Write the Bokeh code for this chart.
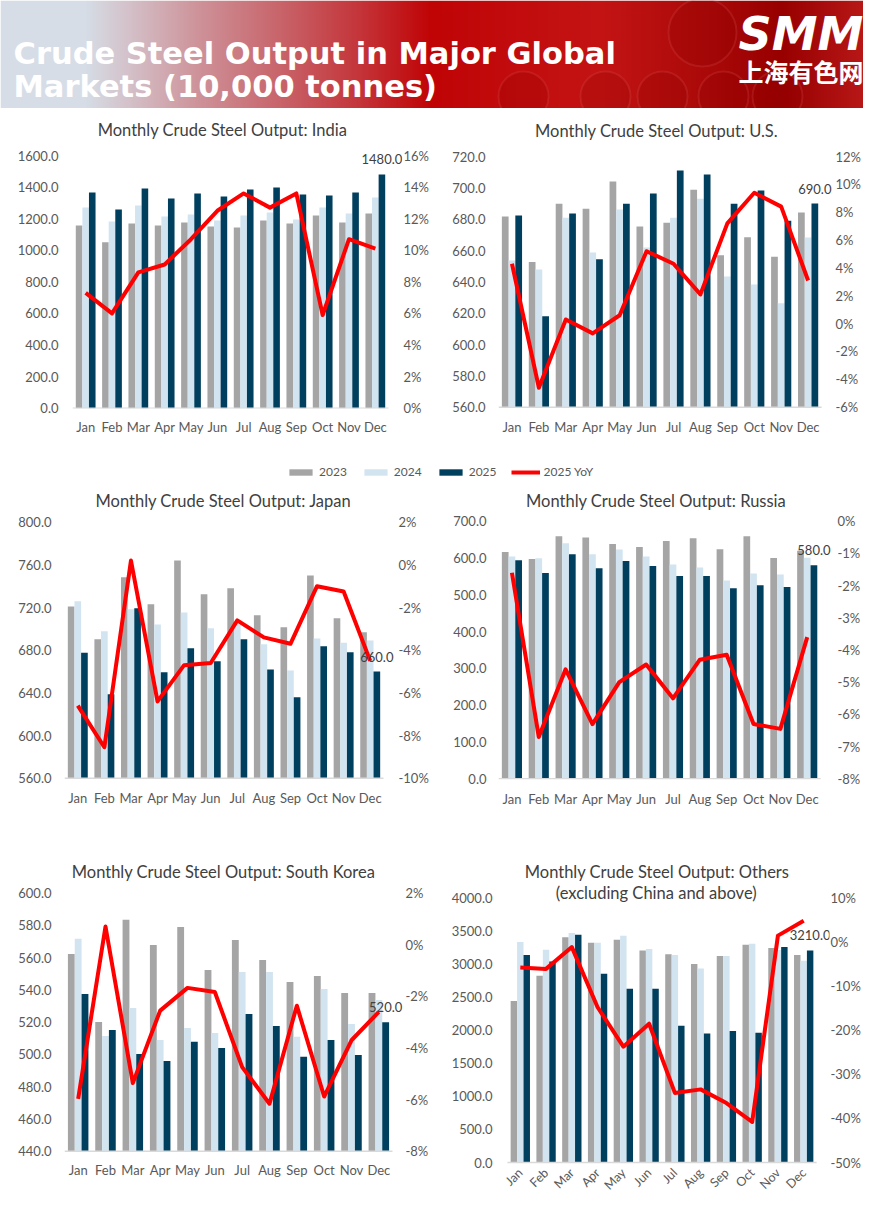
import math
import numpy as np
from bokeh.plotting import figure
from bokeh.models import (Range1d, LinearAxis, FixedTicker, PrintfTickFormatter,
                          ColumnDataSource, Label, Legend, LegendItem)
from bokeh.transform import dodge
from bokeh.layouts import column, row
from bokeh.core.properties import value
from bokeh.embed import file_html
from bokeh.resources import INLINE

# ---------------- data ----------------
months = ["Jan", "Feb", "Mar", "Apr", "May", "Jun", "Jul", "Aug", "Sep", "Oct", "Nov", "Dec"]

india_2023 = [1157, 1051, 1169, 1157, 1176, 1150, 1144, 1188, 1169, 1220, 1176, 1233]
india_2024 = [1271, 1182, 1283, 1214, 1226, 1188, 1220, 1239, 1195, 1271, 1233, 1334]
india_2025 = [1366, 1258, 1391, 1328, 1359, 1340, 1385, 1397, 1353, 1347, 1366, 1480]
india_yoy = [7.3, 6.0, 8.6, 9.1, 10.7, 12.5, 13.6, 12.7, 13.6, 5.9, 10.7, 10.1]

us_2023 = [681.7, 652.6, 689.8, 686.6, 704.0, 675.3, 677.7, 698.7, 657.0, 668.5, 656.0, 684.3]
us_2024 = [653.6, 647.9, 680.9, 658.7, 686.2, 662.0, 680.9, 693.0, 643.4, 638.3, 626.4, 668.3]
us_2025 = [682.3, 618.0, 683.6, 654.5, 689.8, 696.4, 711.0, 708.5, 689.8, 698.3, 679.0, 690.0]
us_yoy = [4.3, -4.6, 0.3, -0.7, 0.6, 5.2, 4.3, 2.1, 7.2, 9.4, 8.4, 3.1]

japan_2023 = [721.0, 690.3, 748.4, 723.0, 764.0, 732.5, 738.0, 712.8, 701.6, 750.0, 710.0, 696.9]
japan_2024 = [726.0, 697.8, 718.4, 704.0, 715.3, 700.6, 705.0, 685.6, 661.0, 691.0, 687.0, 689.0]
japan_2025 = [677.5, 638.8, 719.4, 659.4, 681.9, 669.7, 690.3, 662.0, 636.0, 683.8, 678.0, 660.0]
japan_yoy = [-6.6, -8.55, 0.2, -6.4, -4.7, -4.6, -2.6, -3.4, -3.7, -1.0, -1.25, -4.5]

russia_2023 = [616, 597, 659, 656, 638, 630, 646, 654, 624, 659, 600, 620]
russia_2024 = [604, 599, 640, 610, 623, 604, 582, 574, 539, 558, 555, 601]
russia_2025 = [594, 559, 610, 572, 592, 578, 551, 551, 518, 526, 521, 580]
russia_yoy = [-1.6, -6.7, -4.6, -6.3, -5.0, -4.45, -5.5, -4.3, -4.15, -6.3, -6.45, -3.6]

korea_2023 = [562.3, 520.2, 583.6, 567.9, 579.0, 552.4, 571.0, 558.6, 545.0, 548.7, 538.1, 538.1]
korea_2024 = [571.8, 511.5, 528.8, 509.0, 516.4, 513.3, 551.2, 551.2, 510.9, 540.6, 518.9, 533.8]
korea_2025 = [537.5, 515.2, 500.3, 496.0, 507.8, 504.0, 525.1, 517.7, 498.5, 509.0, 499.7, 520.0]
korea_yoy = [-5.97, 0.71, -5.36, -2.55, -1.67, -1.83, -4.74, -6.16, -2.36, -5.88, -3.7, -2.6]

others_2023 = [2446, 2825, 3410, 3324, 3370, 3208, 3153, 3006, 3127, 3294, 3248, 3142]
others_2024 = [3339, 3218, 3475, 3324, 3430, 3233, 3142, 2936, 3127, 3309, 3215, 3052]
others_2025 = [3142, 3041, 3445, 2855, 2628, 2628, 2068, 1952, 1992, 1962, 3263, 3210]
others_yoy = [-5.75, -6.05, -1.1, -14.75, -23.7, -18.5, -34.2, -33.4, -36.5, -40.8, 1.5, 4.9]

series_labels = ["2023", "2024", "2025", "2025 YoY"]
main_title = ["Crude Steel Output in Major Global", "Markets (10,000 tonnes)"]

# ---------------- style ----------------
FONT = "Lato"
C23, C24, C25, CRED = "#A5A5A5", "#D2E4F0", "#003F5E", "#FF0000"
TXT = "#595959"
TTL = "#404040"
NM = len(months)
month_x = [i + 0.5 for i in range(NM)]


def style_axis(ax, standoff):
    ax.axis_line_color = None
    ax.major_tick_line_color = None
    ax.minor_tick_line_color = None
    ax.major_tick_out = 0
    ax.major_tick_in = 0
    ax.minor_tick_out = 0
    ax.minor_tick_in = 0
    ax.major_label_text_font = FONT
    ax.major_label_text_font_size = "13px"
    ax.major_label_text_color = TXT
    ax.major_label_standoff = standoff


def make_panel(titles, d23, d24, d25, yoy, lmin, lmax, lstep, rmin, rmax, rstep,
               fig, pa, fr, xs, ls, rs, month_text=None):
    """month_text: None -> regular x axis; (angle, align, x_offset, y_offset, size) -> month
    names drawn as text at the category positions (lets the frame run to the figure's bottom)."""
    fx0, fy0, fw, fh = fig          # figure box on the page
    pl, pr, pt, pb = pa             # where the category band / value axis sit
    rl, rr, rt, rb = fr             # drawing frame (a bit larger, to hold titles and end labels)
    sx = NM / (pr - pl)
    sy = (lmax - lmin) / (pb - pt)
    sr = (rmax - rmin) / (pb - pt)
    p = figure(width=fw, height=fh,
               x_range=Range1d((rl - pl) * sx, (rr - pl) * sx),
               y_range=Range1d(lmin - (rb - pb) * sy, lmax + (pt - rt) * sy),
               output_backend="svg", toolbar_location=None, title=None,
               x_axis_location=None if month_text else "below",
               min_border_left=rl - fx0, min_border_right=fx0 + fw - rr,
               min_border_top=rt - fy0, min_border_bottom=fy0 + fh - rb)
    p.extra_y_ranges = {"yoy": Range1d(rmin - (rb - pb) * sr, rmax + (pt - rt) * sr)}
    p.outline_line_color = None
    p.xgrid.visible = False
    p.ygrid.visible = False

    src = ColumnDataSource(dict(x=month_x, month=months, y23=d23, y24=d24, y25=d25, yoy=yoy))
    p.vbar(x=dodge("x", -0.25), top="y23", bottom=lmin, width=0.25, source=src,
           fill_color=C23, line_color=None)
    p.vbar(x=dodge("x", 0.0), top="y24", bottom=lmin, width=0.25, source=src,
           fill_color=C24, line_color=None)
    p.vbar(x=dodge("x", 0.25), top="y25", bottom=lmin, width=0.25, source=src,
           fill_color=C25, line_color=None)
    p.segment(x0=[0], y0=[lmin], x1=[NM], y1=[lmin], line_color="#D9D9D9", line_width=1.5)
    p.line(x="x", y="yoy", source=src, y_range_name="yoy", line_color=CRED,
           line_width=4, line_join="round")

    p.add_layout(Label(x=month_x[-1] + 0.25, y=d25[-1], text=f"{d25[-1]:.1f}",
                       text_align="center", text_baseline="bottom", y_offset=10,
                       text_font=FONT, text_font_size="13px", text_color=TTL))

    for txt, cx, cy in titles:
        p.add_layout(Label(x=(cx - pl) * sx, y=lmax + (pt - cy) * sy, text=txt,
                           text_align="center", text_baseline="middle", text_font=FONT,
                           text_font_size="16.5px", text_color=TTL))

    p.yaxis[0].ticker = FixedTicker(ticks=[float(v) for v in np.arange(lmin, lmax + lstep / 2, lstep)])
    p.yaxis[0].formatter = PrintfTickFormatter(format="%.1f")
    style_axis(p.yaxis[0], ls)

    ra = LinearAxis(y_range_name="yoy",
                    ticker=FixedTicker(ticks=[float(v) for v in np.arange(rmin, rmax + rstep / 2, rstep)]),
                    formatter=PrintfTickFormatter(format="%d%%"))
    style_axis(ra, rs)
    p.add_layout(ra, "right")

    if month_text:
        ang, align, xo, yo, size = month_text
        p.text(x="x", y=lmin, text="month", source=src, angle=ang,
               text_align=align, text_baseline="middle", x_offset=xo, y_offset=yo,
               text_font=value(FONT), text_font_size=size, text_color=TXT)
    else:
        xa = p.xaxis[0]
        xa.ticker = FixedTicker(ticks=month_x)
        xa.major_label_overrides = {x: m for x, m in zip(month_x, months)}
        style_axis(xa, xs)
    return p


india = make_panel([("Monthly Crude Steel Output: India", 222, 129.3)],
                   india_2023, india_2024, india_2025, india_yoy, 0, 1600, 200, 0, 16, 2,
                   (0, 108, 440, 340), (72, 388, 155, 407.7), (72, 402, 112, 408), 10, 14, 1)
us = make_panel([("Monthly Crude Steel Output: U.S.", 657, 130)],
                us_2023, us_2024, us_2025, us_yoy, 560, 720, 20, -6, 12, 2,
                (440, 108, 423, 340), (498, 823, 156, 406.7), (498, 836, 112, 408), 10, 13, 1)
japan = make_panel([("Monthly Crude Steel Output: Japan", 223, 500)],
                   japan_2023, japan_2024, japan_2025, japan_yoy, 560, 800, 40, -10, 2, 2,
                   (0, 490, 440, 325), (64, 383, 521.7, 777.7), (64, 397, 490, 779), 10, 13, 1)
russia = make_panel([("Monthly Crude Steel Output: Russia", 657, 500)],
                    russia_2023, russia_2024, russia_2025, russia_yoy, 0, 700, 100, -8, 0, 1,
                    (440, 490, 423, 325), (498, 823, 520.7, 778.3), (498, 839, 490, 779), 11, 12, 1)
korea = make_panel([("Monthly Crude Steel Output: South Korea", 223, 871.7)],
                   korea_2023, korea_2024, korea_2025, korea_yoy, 440, 600, 20, -8, 2, 2,
                   (0, 815, 440, 379), (64, 392, 892.7, 1150.7), (64, 404, 858, 1194), 0, 13, 1,
                   month_text=(0, "center", 0, 18.6, "13px"))
others = make_panel([("Monthly Crude Steel Output: Others", 657.5, 871.7),
                     ("(excluding China and above)", 656.7, 892.7)],
                    others_2023, others_2024, others_2025, others_yoy, 0, 4000, 500, -50, 10, 10,
                    (440, 815, 423, 379), (507, 818, 897.7, 1162), (494, 831, 858, 1194), 0, 2, 1,
                    month_text=(math.pi / 4, "right", 0, 8, "12.5px"))

# ---------------- header ----------------
HW, HH = 863, 108
hdr = figure(width=HW, height=HH, x_range=Range1d(0, HW), y_range=Range1d(0, HH),
             output_backend="svg", toolbar_location=None, min_border=0, title=None,
             x_axis_location=None, y_axis_location=None)
hdr.grid.visible = False
hdr.outline_line_color = None
px = np.arange(HW)
stop_x = [0, 85, 130, 200, 280, 360, 430, 600, 700, 780, 879]
stop_c = np.array([[214, 221, 230], [214, 221, 230], [212, 192, 200], [206, 145, 152],
                   [200, 100, 106], [196, 52, 57], [192, 4, 6], [196, 20, 20],
                   [172, 10, 10], [152, 0, 0], [190, 28, 28]], dtype=float)
img = np.zeros((HH, HW), dtype=np.uint32)
view = img.view(dtype=np.uint8).reshape((HH, HW, 4))
for k in range(3):
    view[:, :, k] = np.interp(px, stop_x, stop_c[:, k]).astype(np.uint8)[None, :]
view[:, :, 3] = 255
hdr.image_rgba(image=[img], x=0, y=0, dw=HW, dh=HH)
hdr.circle(x=[702, 523, 605, 662, 723, 777], y=[76, 12, 12, 12, 12, 12],
           radius=[34, 25, 25, 25, 25, 25], fill_color="#8E0000", fill_alpha=0.22,
           line_color="#E06060", line_alpha=0.2, line_width=2)
hdr.text(x=[13, 13], y=[55, 22], text=main_title, text_font=value("DejaVu Sans"), text_font_size="30.5px",
         text_font_style="bold", text_color="white", text_baseline="middle", text_align="left")
hdr.text(x=[738], y=[74.5], text=["SMM"], text_font=value("DejaVu Sans"), text_font_size="46px",
         text_font_style="bold italic", text_color="white", text_baseline="middle")
hdr.text(x=[738], y=[38], text=["上海有色网"], text_font=value("Noto Sans CJK SC"), text_font_size="25px",
         text_font_style="bold", text_color="white", text_baseline="middle")

# ---------------- legend ----------------
lg = figure(width=863, height=42, x_range=Range1d(0, 1), y_range=Range1d(0, 1),
            output_backend="svg", toolbar_location=None, min_border=0, title=None,
            x_axis_location=None, y_axis_location=None)
lg.grid.visible = False
lg.outline_line_color = None
proxy = ColumnDataSource(dict(x=[-5, -6], y=[-5, -5]))
r1 = lg.vbar(x="x", top="y", width=0.1, source=proxy, fill_color=C23, line_color=None)
r2 = lg.vbar(x="x", top="y", width=0.1, source=proxy, fill_color=C24, line_color=None)
r3 = lg.vbar(x="x", top="y", width=0.1, source=proxy, fill_color=C25, line_color=None)
r4 = lg.line(x="x", y="y", source=proxy, line_color=CRED, line_width=4)
legend = Legend(items=[LegendItem(label=series_labels[i], renderers=[r]) for i, r in enumerate([r1, r2, r3, r4])],
                orientation="horizontal", location=(286, 11), border_line_color=None,
                background_fill_alpha=0, padding=0, margin=0, spacing=14, glyph_width=29,
                glyph_height=8, label_height=8, label_standoff=4, label_text_font=FONT,
                label_text_font_size="12px", label_text_color=TXT)
lg.add_layout(legend, "center")

layout = column(hdr, row(india, us), lg, row(japan, russia), row(korea, others))
open("out.html", "w").write(file_html(layout, INLINE))
